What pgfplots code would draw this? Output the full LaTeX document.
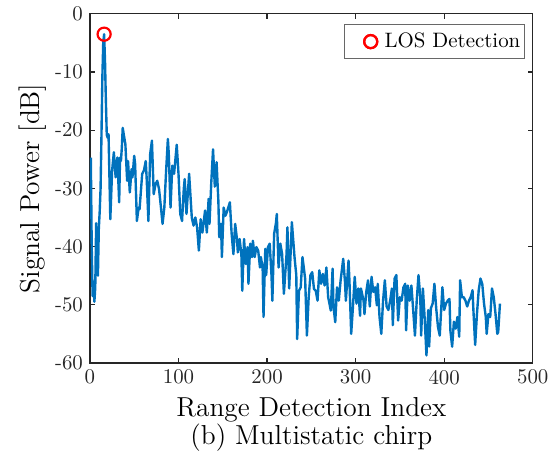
\documentclass[border=0pt]{standalone}
\usepackage{pgfplots}
\pgfplotsset{compat=1.18}
\definecolor{matblue}{RGB}{0,114,189}
\definecolor{axgray}{gray}{0.15}

% received signal power per range bin (dB)
\pgfplotstableread{
idx power
1 -24.7
2 -40
3 -48.5
4 -46
5 -49.5
6 -47
7 -36
8 -40
9 -45
10 -37
11 -34
12 -30
13 -21
14 -11
15 -5
16 -3.5
17 -8
18 -15
19 -20.8
20 -21.3
21 -20.7
22 -28
23 -35.3
25 -27
27 -23.8
29 -28.1
31 -24.7
33 -32.4
34 -24.7
35 -25.3
36 -23
37 -19.6
39 -21.5
40 -22.4
42 -28.7
43 -25.3
45 -30.7
47 -26.7
48 -28.1
50 -24.4
51 -25.8
53 -35.6
55 -33.3
56 -33.6
59 -27.5
61 -26.9
63 -25.3
64 -28.1
66 -35.6
68 -24.1
70 -21.8
72 -31
74 -29.3
76 -28.7
78 -30.1
80 -33
82 -36.1
84 -33.3
86 -27
88 -21.5
89 -24
91 -33.3
93 -26.1
95 -27.5
98 -22.5
100 -27.5
102 -34.4
104 -35.6
106 -30
107 -28.4
109 -34.4
112 -27.5
115 -35
117 -36.4
119 -35
121 -36.7
123 -40.7
125 -35.3
127 -37.6
130 -33.8
132 -37.6
134 -31.8
135 -36.1
137 -29
139 -23.3
141 -29.7
143 -25.5
145 -32.1
146 -38.4
148 -36.1
149 -41.8
151 -33.3
153 -34.7
155 -33.9
158 -32.4
160 -37.8
162 -41.3
164 -36.1
166 -38.7
167 -41
169 -38.7
171 -41.3
172 -47.6
174 -38.7
176 -43
178 -40.1
179 -46.4
181 -39.5
183 -41.8
184 -39
186 -41.8
188 -40.1
190 -40.7
192 -43.6
193 -41.8
195 -43.6
196 -52.1
198 -40.4
199 -44.9
201 -40.1
203 -39.5
205 -44.9
206 -49.3
208 -37.8
210 -36
211 -34.4
213 -43.6
215 -39.5
217 -41.3
219 -48.1
222 -41.3
223 -36.7
225 -47.2
228 -35.8
231 -41.8
233 -44.9
234 -55.9
236 -47.6
238 -47
240 -41.8
243 -45.5
245 -55.3
247 -48.7
249 -44.9
251 -44.4
253 -47.3
255 -47.6
257 -49.3
259 -44.1
261 -46.4
263 -44.7
265 -46.7
267 -43.6
269 -48.7
272 -51
274 -43.8
275 -50.3
277 -53
279 -47
281 -49.3
283 -45.9
286 -42.1
288 -46.1
289 -49.3
292 -42.4
293 -45.8
295 -55
297 -50.3
299 -45.2
301 -49.8
303 -47.2
305 -51.9
306 -47.2
309 -49.3
310 -51.6
312 -47.8
314 -45.8
316 -50.3
318 -45.2
320 -47.8
322 -47
324 -50.1
325 -46.4
327 -52.1
329 -55
331 -49.3
333 -45.8
335 -50.3
337 -50.9
339 -49.3
341 -47.2
342 -53.5
344 -45.5
346 -44.9
348 -52.7
350 -48.7
352 -49.3
354 -47
356 -46.4
357 -54.4
359 -46.7
361 -49.3
363 -46.7
365 -50.9
367 -55.3
369 -49.3
371 -44.9
373 -48.7
374 -55.3
376 -47.2
378 -52.4
380 -58.7
382 -50.9
383 -57.2
385 -50.6
387 -49.8
389 -46.4
391 -50.6
393 -53.8
395 -55.3
397 -49.8
398 -47
400 -50.9
402 -49.8
404 -49.3
406 -49
407 -54.4
409 -57.2
411 -52.9
413 -54.1
415 -52.1
417 -55.5
418 -45.8
420 -48.7
422 -48.7
424 -49.3
426 -50.3
428 -49.3
430 -48.7
432 -47.5
433 -50.9
435 -56.9
437 -51.6
439 -47.5
441 -45.5
443 -46.4
445 -49.8
447 -52.1
448 -55
450 -51.6
452 -52.1
454 -47.2
456 -48.7
458 -51.6
460 -55
461 -54.7
463 -49.8
}\powertable

\begin{document}
\begin{tikzpicture}
\begin{axis}[
  scale only axis,
  width=222.75pt, height=175.65pt,
  xmin=0, xmax=500, ymin=-60, ymax=0,
  xtick={0,100,...,500}, ytick={-60,-50,...,0},
  tick align=inside, tick pos=both,
  major tick length=2.4pt,
  axis line style={axgray, line width=0.6pt},
  every tick/.style={axgray, line width=0.6pt},
  tick label style={font=\fontsize{10.5}{12}\selectfont, text=axgray},
  /pgf/number format/assume math mode=true,
  xlabel={Range Detection Index},
  ylabel={Signal Power [dB]},
  label style={font=\fontsize{13.8}{16}\selectfont},
  xlabel style={at={([yshift=-27pt]axis description cs:0.5,0)}, anchor=base},
  ylabel style={at={([xshift=-25.5pt]axis description cs:0,0.5)}, anchor=base},
  legend style={at={([xshift=-4pt,yshift=-5.3pt]axis description cs:1,1)},
    anchor=north east, draw=axgray!70, line width=0.5pt,
    font=\fontsize{10.5}{12}\selectfont, inner xsep=0pt, inner ysep=2pt},
  legend image code/.code={
    \path[draw=none] (0pt,0pt) -- (18pt,0pt);
    \draw[#1, draw=none] plot coordinates {(13pt,0pt)};
    \draw[red, line width=1.1pt] (13pt,0pt) circle[radius=3.3pt];
  },
]
\addplot[matblue, line width=1.2pt, line join=round, forget plot]
  table[x=idx, y=power] {\powertable};
\addplot[only marks, mark=o, red, mark size=3.3pt, line width=1.1pt]
  coordinates {(16,-3.5)};
\addlegendentry{LOS Detection}
\end{axis}
\node[font=\fontsize{13.8}{16}\selectfont, anchor=base]
  at ([yshift=-41pt]current axis.south) {(b) Multistatic chirp};
\path ([shift={(-45.25pt,-49pt)}]current axis.south west)
  rectangle ([shift={(9.5pt,6.35pt)}]current axis.north east);
\end{tikzpicture}
\end{document}
